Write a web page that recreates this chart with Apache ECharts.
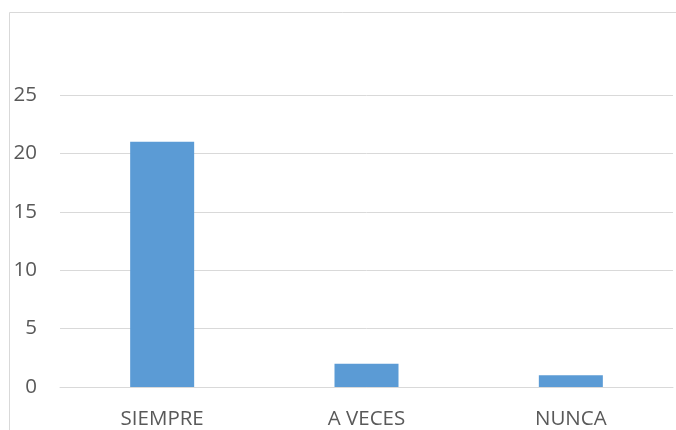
<!DOCTYPE html>
<html><head><meta charset="utf-8">
<script src="https://cdn.jsdelivr.net/npm/echarts@6/dist/echarts.min.js"></script>
<style>html,body{margin:0;padding:0;background:#fff}#c{width:676px;height:430px}</style>
</head><body><div id="c"></div>
<script>
var categories = ["SIEMPRE", "A VECES", "NUNCA"];
var values = [21, 2, 1];
var chart = echarts.init(document.getElementById('c'));
chart.setOption({
  animation: false,
  backgroundColor: '#fff',
  graphic: [
    {type: 'line', shape: {x1: 9.5, y1: 12.5, x2: 676, y2: 12.5}, style: {stroke: '#d9d9d9', lineWidth: 1}},
    {type: 'line', shape: {x1: 9.5, y1: 12.5, x2: 9.5, y2: 430}, style: {stroke: '#d9d9d9', lineWidth: 1}}
  ],
  grid: {left: 60, right: 3, top: 95, bottom: 43, containLabel: false},
  xAxis: {
    type: 'category', data: categories,
    axisLine: {lineStyle: {color: '#d9d9d9'}},
    axisTick: {show: false},
    axisLabel: {color: '#595959', fontSize: 20.5, fontFamily: 'Open Sans', margin: 22}
  },
  yAxis: {
    type: 'value', min: 0, max: 25, interval: 5,
    axisLine: {show: false}, axisTick: {show: false},
    splitLine: {lineStyle: {color: '#d9d9d9'}},
    axisLabel: {color: '#595959', fontSize: 20.5, fontFamily: 'Open Sans', margin: 23}
  },
  series: [{type: 'bar', data: values, barWidth: 64, itemStyle: {color: '#5b9bd5'}}]
});
</script></body></html>
